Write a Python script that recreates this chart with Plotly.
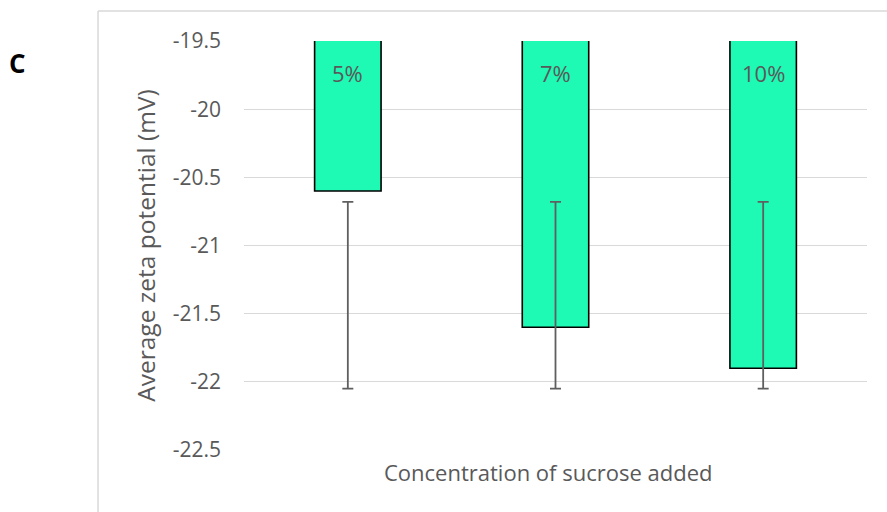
import plotly.graph_objects as go

categories = ["5%", "7%", "10%"]
zeta_values = [-20.6, -21.6, -21.9]
err_upper = [-20.68, -20.68, -20.68]
err_lower = [-22.05, -22.05, -22.05]
y_ticks = [-19.5, -20, -20.5, -21, -21.5, -22, -22.5]
y_tick_labels = ["-19.5", "-20", "-20.5", "-21", "-21.5", "-22", "-22.5"]

FONT = "Open Sans"
GREY = "#595959"

fig = go.Figure()
fig.add_trace(go.Bar(
    x=categories, y=zeta_values,
    marker=dict(color="#1EF9B4", line=dict(color="#000000", width=1.6)),
    width=0.32, showlegend=False, hoverinfo="skip",
))
fig.add_trace(go.Scatter(
    x=categories, y=err_upper, mode="markers",
    marker=dict(size=1, color="rgba(0,0,0,0)"),
    error_y=dict(type="data", symmetric=False,
                 array=[0] * len(categories),
                 arrayminus=[u - l for u, l in zip(err_upper, err_lower)],
                 color="#5f5f5f", thickness=1.8, width=5.5),
    showlegend=False, hoverinfo="skip",
))

for c in categories:
    fig.add_annotation(x=c, y=y_ticks[0], xref="x", yref="y", text=c,
                       showarrow=False, yanchor="middle", yshift=-32,
                       font=dict(family=FONT, size=22, color=GREY))

fig.add_annotation(x=-0.3628, y=1.0, xref="paper", yref="paper", text="<b>C</b>",
                   showarrow=False, xanchor="center", yanchor="middle", yshift=-22,
                   font=dict(family=FONT, size=26, color="#000000"))

# x axis title, placed as in the reference
fig.add_annotation(x=0.4872, y=0, xref="paper", yref="paper",
                   text="Concentration of sucrose added", showarrow=False,
                   xanchor="center", yanchor="middle", yshift=-22,
                   font=dict(family=FONT, size=22, color=GREY))

# chart frame lines
fig.add_shape(type="line", xref="paper", yref="paper", x0=-0.2343, x1=1.04,
              y0=1.0733, y1=1.0733, line=dict(color="#d9d9d9", width=1.5))
fig.add_shape(type="line", xref="paper", yref="paper", x0=-0.2343, x1=-0.2343,
              y0=1.0733, y1=-0.16, line=dict(color="#d9d9d9", width=1.5))

fig.update_layout(
    width=887, height=512,
    margin=dict(l=244, r=20, t=41, b=62),
    paper_bgcolor="white", plot_bgcolor="white",
    bargap=0.68,
    font=dict(family=FONT, color=GREY),
    xaxis=dict(showticklabels=False, showgrid=False, zeroline=False, showline=False),
    yaxis=dict(range=[-22.5, -19.5], tickvals=y_ticks, ticktext=y_tick_labels,
               showgrid=True, gridcolor="#d9d9d9", gridwidth=1.3, zeroline=False,
               showline=False, ticks="", ticklabelstandoff=22,
               tickfont=dict(family=FONT, size=21, color=GREY),
               title=dict(text="Average zeta potential (mV)",
                          font=dict(family=FONT, size=24.5, color=GREY), standoff=10)),
)

fig.write_html("out.html")
